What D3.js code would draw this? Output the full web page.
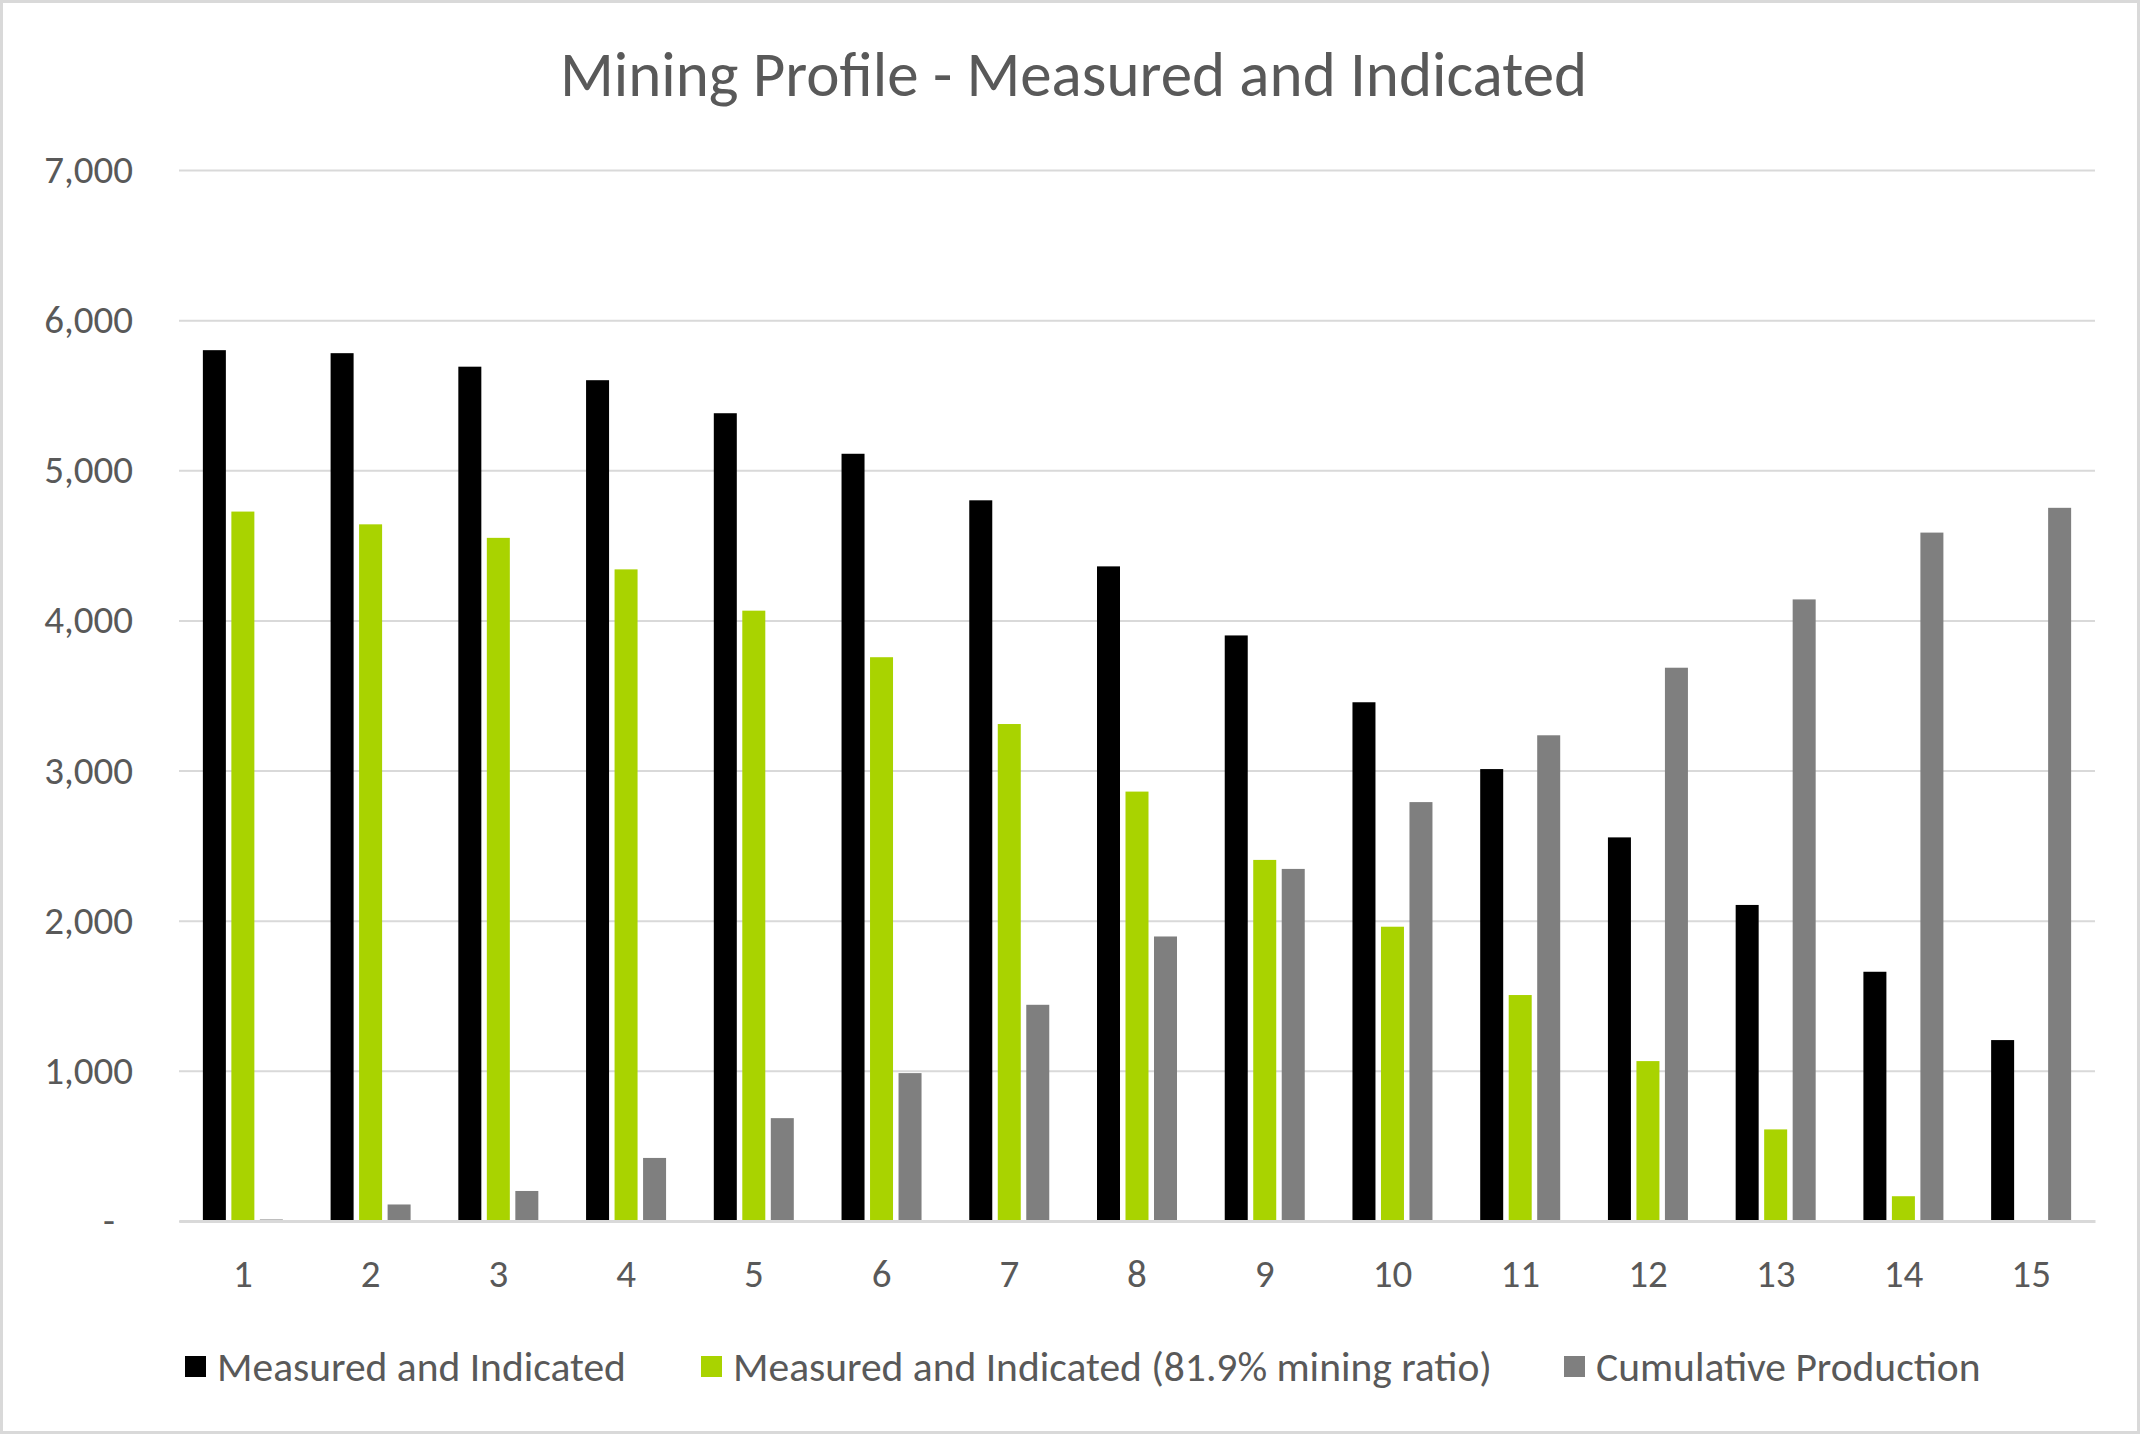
<!DOCTYPE html>
<html>
<head>
<meta charset="utf-8">
<script src="https://cdnjs.cloudflare.com/ajax/libs/d3/7.8.5/d3.min.js"></script>
<style>
  body { margin: 0; background: #fff; }
  svg text { font-family: Carlito, Lato, sans-serif; fill: #595959; }
</style>
</head>
<body>
<svg id="chart"></svg>
<script>
// periods on the x axis
const periods = ['1','2','3','4','5','6','7','8','9','10','11','12','13','14','15'];
const seriesNames = ['Measured and Indicated', 'Measured and Indicated (81.9% mining ratio)', 'Cumulative Production'];
const seriesColors = ['#000000', '#a9d300', '#7f7f7f'];

// values
const measured = [5800, 5780, 5690, 5600, 5380, 5110, 4800, 4360, 3900, 3455, 3010, 2555, 2105, 1660, 1205];
const mined = [4725, 4640, 4550, 4340, 4065, 3755, 3310, 2860, 2405, 1960, 1505, 1065, 610, 165, 0];
const cumulative = [10, 110, 200, 420, 685, 985, 1440, 1895, 2345, 2790, 3235, 3685, 4140, 4585, 4750];
const yTicks = [0, 1000, 2000, 3000, 4000, 5000, 6000, 7000];

const W = 2147, H = 1435;
const margin = {top: 170, right: 52, bottom: 214, left: 179};
const plotW = W - margin.left - margin.right;
const plotH = H - margin.top - margin.bottom;

const svg = d3.select('#chart').attr('width', W).attr('height', H);

// outer chart border
svg.append('rect')
  .attr('x', 1.5).attr('y', 1.5)
  .attr('width', W - 10).attr('height', H - 4)
  .attr('fill', '#fff').attr('stroke', '#d9d9d9').attr('stroke-width', 3);

svg.append('text')
  .attr('x', W / 2).attr('y', 96)
  .attr('text-anchor', 'middle')
  .attr('font-size', 63)
  .text('Mining Profile - Measured and Indicated');

const g = svg.append('g').attr('transform', `translate(${margin.left},${margin.top})`);

const y = d3.scaleLinear().domain([0, 7000]).range([plotH, 0]);
const x0 = d3.scaleBand().domain(periods).range([0, plotW]);
const x1 = d3.scaleBand().domain(seriesNames).range([0, 80]).paddingInner(0.193);

// gridlines + y labels
const yAxis = g.append('g')
  .call(d3.axisLeft(y).tickValues(yTicks).tickSize(-plotW).tickPadding(46)
    .tickFormat(d => d === 0 ? '-' : d3.format(',')(d)));
yAxis.select('.domain').remove();
yAxis.selectAll('.tick line').attr('stroke', '#d9d9d9').attr('stroke-width', 2);
yAxis.selectAll('.tick text').attr('font-size', 39).attr('fill', '#595959')
  .attr('dx', d => d === 0 ? -18 : 0);

// bars
const rows = periods.map((p, i) => ({p, vals: [measured[i], mined[i], cumulative[i]]}));
const grp = g.selectAll('.grp').data(rows).enter().append('g')
  .attr('transform', d => `translate(${x0(d.p) + (x0.bandwidth() - 80) / 2},0)`);
grp.selectAll('rect').data(d => d.vals.map((v, k) => ({k, v}))).enter().append('rect')
  .attr('x', d => x1(seriesNames[d.k]))
  .attr('width', x1.bandwidth())
  .attr('y', d => y(d.v))
  .attr('height', d => plotH - y(d.v))
  .attr('fill', d => seriesColors[d.k]);

// x axis
const xAxis = g.append('g').attr('transform', `translate(0,${plotH})`)
  .call(d3.axisBottom(x0).tickSize(0).tickPadding(38));
xAxis.select('.domain').attr('stroke', '#d9d9d9').attr('stroke-width', 3);
xAxis.selectAll('.tick text').attr('font-size', 39).attr('fill', '#595959');

// legend
const legendX = [185, 701, 1564];
const leg = svg.selectAll('.leg').data(seriesNames).enter().append('g')
  .attr('transform', (d, i) => `translate(${legendX[i]},1356)`);
leg.append('rect').attr('width', 21).attr('height', 21)
  .attr('fill', (d, i) => seriesColors[i]);
leg.append('text').attr('x', 32).attr('y', 10.5).attr('dy', '0.35em')
  .attr('font-size', 41.5).text(d => d);
</script>
</body>
</html>
